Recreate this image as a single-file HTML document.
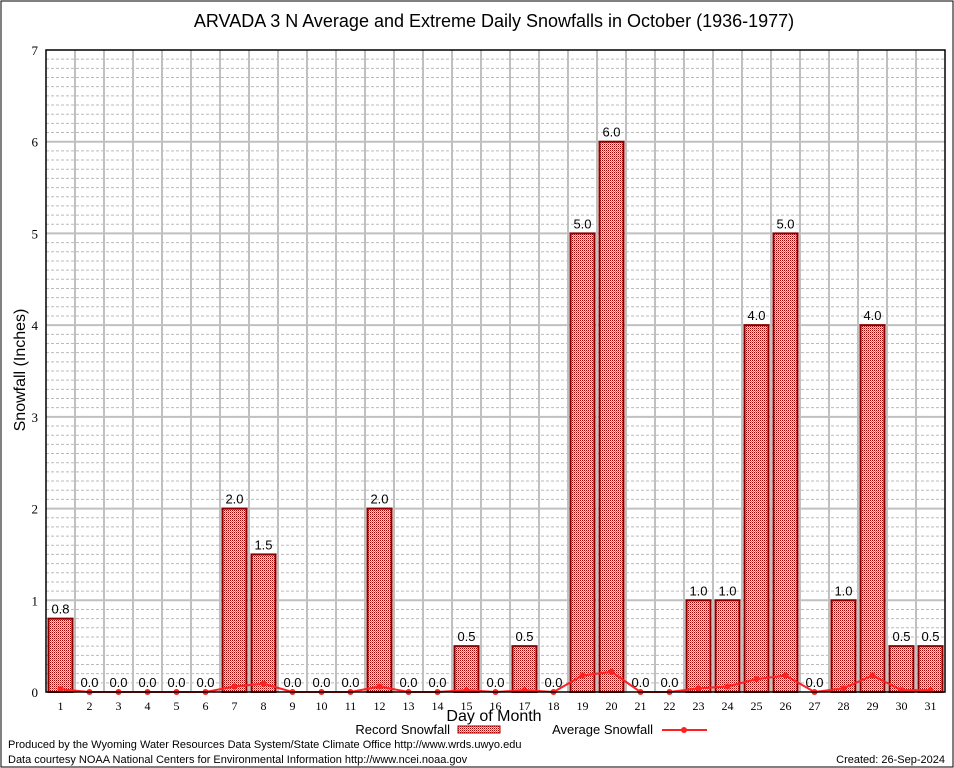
<!DOCTYPE html>
<html><head><meta charset="utf-8"><style>body{margin:0;background:#fff}svg{display:block;font-family:"Liberation Sans","DejaVu Sans",sans-serif}</style></head>
<body>
<svg id="chart" width="954" height="768" viewBox="0 0 954 768">
<defs><pattern id="hatch" width="2" height="2" patternUnits="userSpaceOnUse"><rect width="2" height="2" fill="#f4e0e0"/><rect width="1" height="1" fill="#a00000"/><rect x="1" y="1" width="1" height="1" fill="#d07070"/></pattern></defs>
<rect x="1" y="1" width="952" height="766" fill="#fff" stroke="#000" stroke-width="1"/>
<text x="494" y="27" font-size="18" text-anchor="middle">ARVADA 3 N Average and Extreme Daily Snowfalls in October (1936-1977)</text>
<g id="grid"></g><g id="bars"></g><g id="avg"></g><g id="axes"></g>
<text x="25" y="370" font-size="16" text-anchor="middle" transform="rotate(-90 25 370)">Snowfall (Inches)</text>
<text x="494" y="721" font-size="16" text-anchor="middle">Day of Month</text>
<g>
<text x="450" y="734" font-size="13" text-anchor="end">Record Snowfall</text>
<rect x="458" y="726" width="42" height="7" fill="url(#hatch)" stroke="#a00000"/>
<text x="653" y="734" font-size="13" text-anchor="end">Average Snowfall</text>
<line x1="662" y1="730" x2="707" y2="730" stroke="#ff2020" stroke-width="2"/>
<circle cx="684" cy="730" r="3" fill="#ff2020"/>
</g>
<text x="8" y="748" font-size="11">Produced by the Wyoming Water Resources Data System/State Climate Office http://www.wrds.uwyo.edu</text>
<text x="8" y="763" font-size="11">Data courtesy NOAA National Centers for Environmental Information http://www.ncei.noaa.gov</text>
<text x="945" y="763" font-size="11" text-anchor="end">Created: 26-Sep-2024</text>
</svg>
<script>
const days=[1,2,3,4,5,6,7,8,9,10,11,12,13,14,15,16,17,18,19,20,21,22,23,24,25,26,27,28,29,30,31];
const recordSnow=[0.8,0,0,0,0,0,2.0,1.5,0,0,0,2.0,0,0,0.5,0,0.5,0,5.0,6.0,0,0,1.0,1.0,4.0,5.0,0,1.0,4.0,0.5,0.5];
const avgSnow=[0.03,0,0,0,0,0,0.06,0.09,0,0,0,0.06,0,0,0.02,0,0.02,0,0.18,0.22,0,0,0.04,0.06,0.14,0.18,0,0.04,0.18,0.02,0.02];
const yTicks=[0,1,2,3,4,5,6,7];
const NS="http://www.w3.org/2000/svg";
const L=46,R=945,T=50,B=692,YMAX=7;
const band=(R-L)/days.length;
function xc(i){return L+band*(i+0.5);}
function y(v){return B-(v/YMAX)*(B-T);}
function mk(tag,attrs,parent,txt){const e=document.createElementNS(NS,tag);for(const k in attrs)e.setAttribute(k,attrs[k]);if(txt!==undefined)e.textContent=txt;parent.appendChild(e);return e;}
const grid=document.getElementById('grid'),bars=document.getElementById('bars'),avg=document.getElementById('avg'),axes=document.getElementById('axes');
for(let v=0.1;v<YMAX;v+=0.1){if(Math.abs(v-Math.round(v))<0.01)continue;const l=mk('line',{x1:L,x2:R,y1:y(v),y2:y(v),stroke:'#bbb','stroke-dasharray':'3,2','stroke-width':1},grid);

}
for(let i=1;i<days.length;i++){const l=mk('line',{x1:L+band*i,x2:L+band*i,y1:T,y2:B,stroke:'#c0c0c0','stroke-width':2},grid);

}
yTicks.forEach(t=>{if(t>0&&t<YMAX){const l=mk('line',{x1:L,x2:R,y1:y(t),y2:y(t),stroke:'#c0c0c0','stroke-width':2},grid);

}
const tx=mk('text',{x:L-8,y:y(t)+5,'font-size':13,'text-anchor':'end','font-family':'Liberation Serif,serif'},axes,String(t));

});
days.forEach((d,i)=>{const v=recordSnow[i];const bw=24;
if(v>0){const r=mk('rect',{x:xc(i)-bw/2,y:y(v),width:bw,height:B-y(v),fill:'url(#hatch)',stroke:'#8b0000','stroke-width':2},bars);

}
const lb=mk('text',{x:xc(i),y:y(v)-5,'font-size':13,'text-anchor':'middle'},bars,v.toFixed(1));


const tl=mk('text',{x:xc(i),y:B+18,'font-size':12,'text-anchor':'middle','font-family':'Liberation Serif,serif'},axes,String(d));

});
const pts=avgSnow.map((v,i)=>xc(i)+','+y(v)).join(' ');
const pl=mk('polyline',{points:pts,fill:'none',stroke:'#ff2020','stroke-width':2},avg);


avgSnow.forEach((v,i)=>{const c=mk('circle',{cx:xc(i),cy:y(v),r:3,fill:'#ff2020'},avg);

});
const fr=mk('rect',{x:L,y:T,width:R-L,height:B-T,fill:'none',stroke:'#000','stroke-width':1.5},axes);


</script>
</body></html>
